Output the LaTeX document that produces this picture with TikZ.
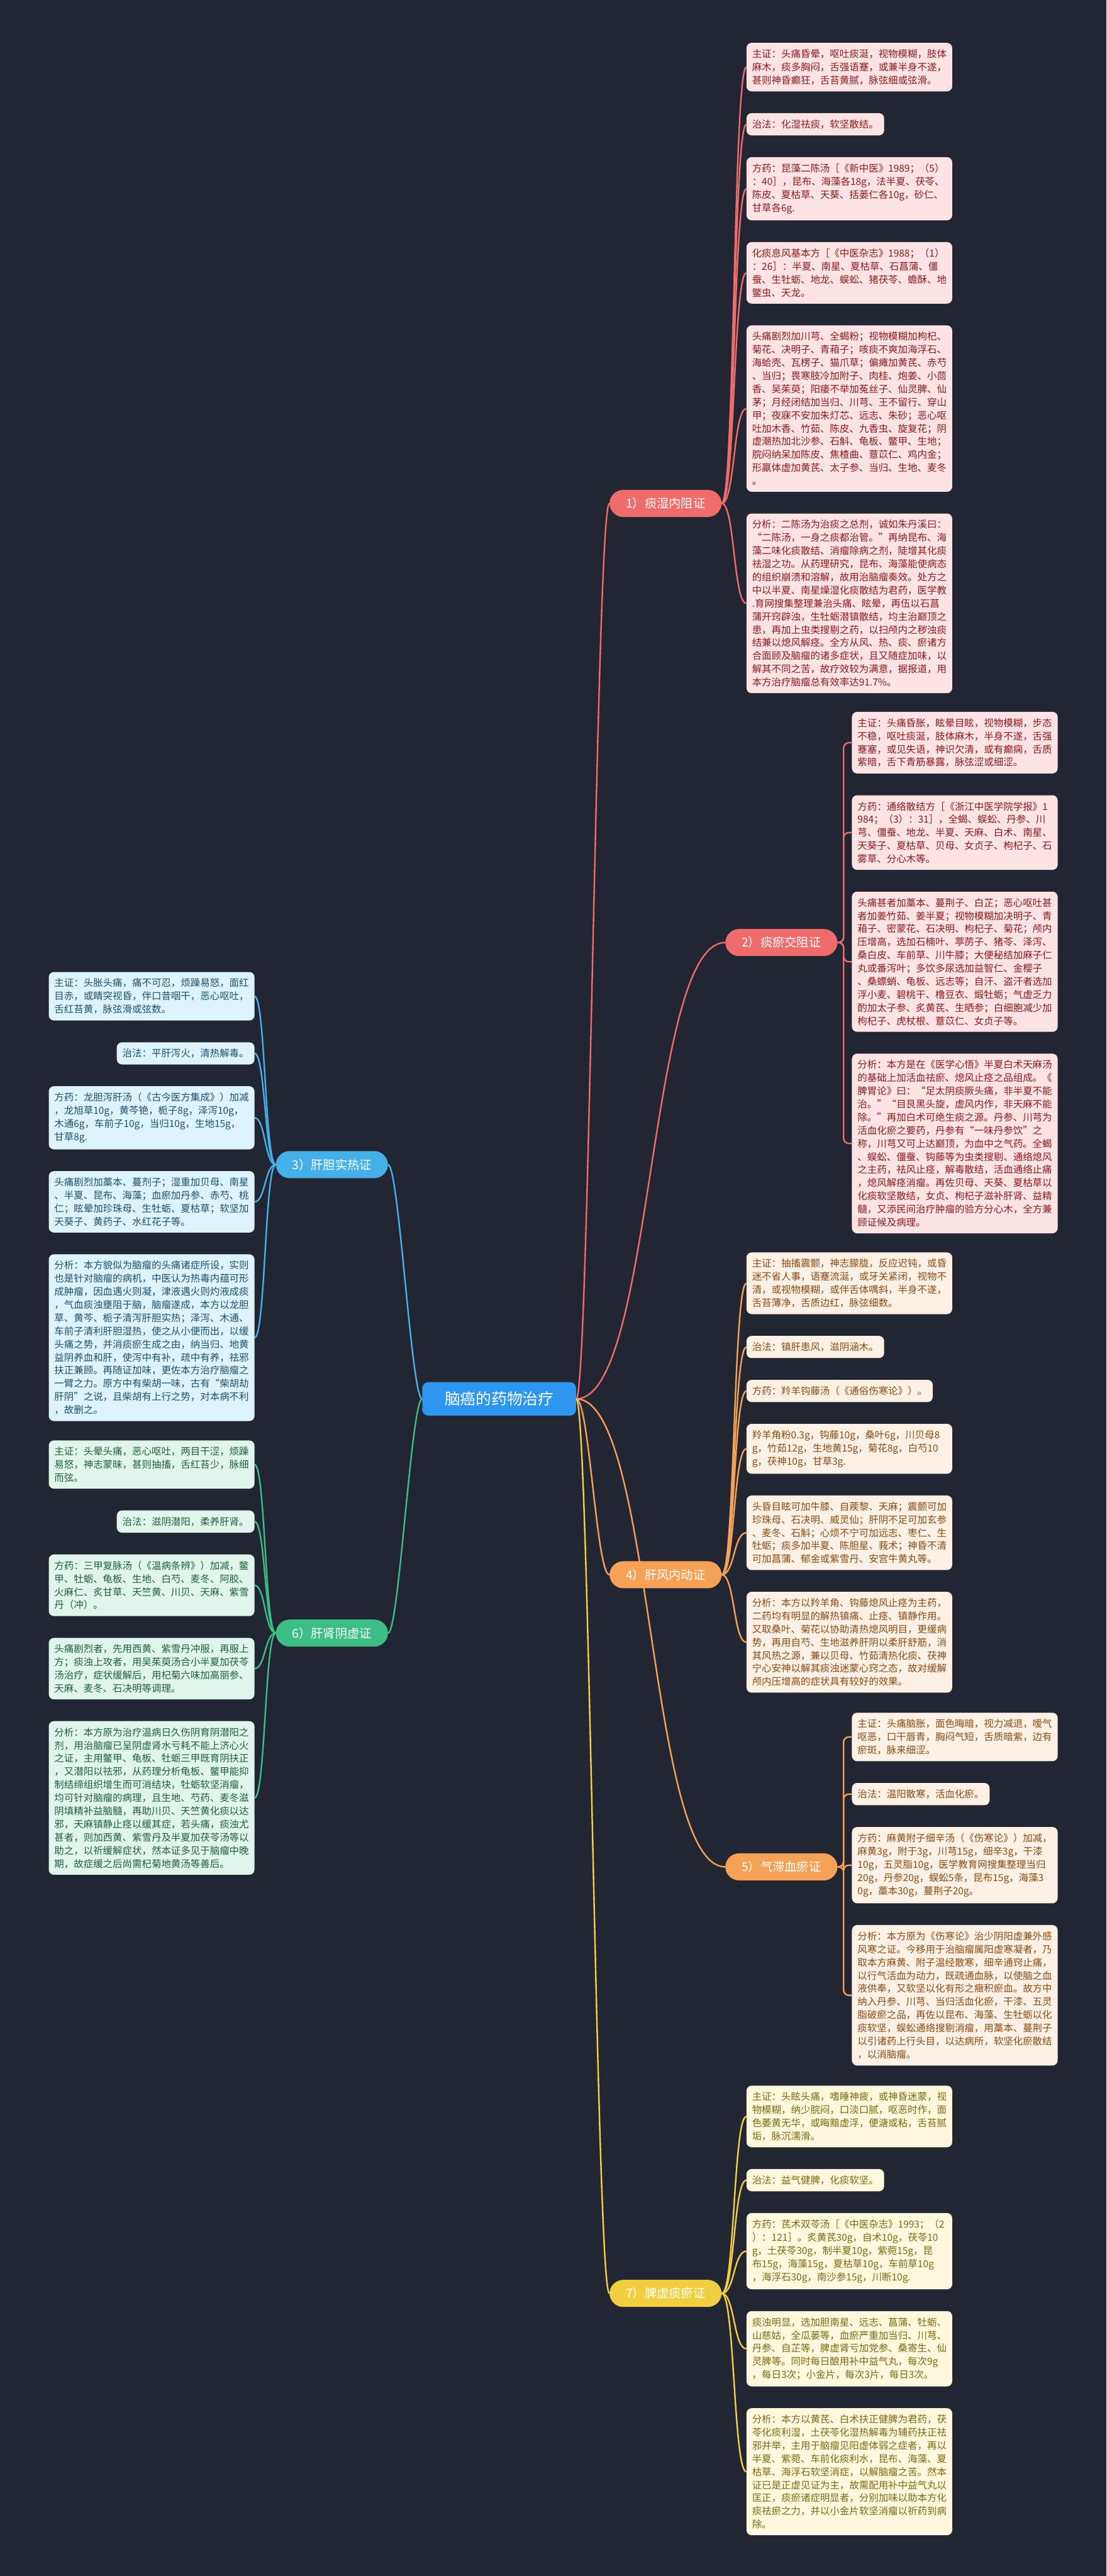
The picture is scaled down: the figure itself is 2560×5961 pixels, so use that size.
\documentclass[tikz,border=0pt]{standalone}
\usepackage{fontspec}
\setmainfont{Noto Sans CJK SC}
\usetikzlibrary{positioning}

\definecolor{bgnavy}{HTML}{222632}
\definecolor{hubblue}{HTML}{2E96EE}
\definecolor{redwire}{HTML}{F06B6B}
\definecolor{redfill}{HTML}{FDE3E3}
\definecolor{redink}{HTML}{8C1C1C}
\definecolor{bluewire}{HTML}{45B1E8}
\definecolor{bluefill}{HTML}{DDF3FD}
\definecolor{blueink}{HTML}{1E4F70}
\definecolor{orangewire}{HTML}{F5A256}
\definecolor{orangefill}{HTML}{FDF0E4}
\definecolor{orangeink}{HTML}{8A4B14}
\definecolor{greenwire}{HTML}{3DBE86}
\definecolor{greenfill}{HTML}{E0F5EB}
\definecolor{greenink}{HTML}{1F5E3F}
\definecolor{yellowwire}{HTML}{F2CF40}
\definecolor{yellowfill}{HTML}{FDF8DE}
\definecolor{yellowink}{HTML}{7E6812}

\tikzset{
  note/.style={rectangle, rounded corners=12pt, inner xsep=13pt, inner ysep=15pt,
    align=left, font=\fontsize{22.5}{30.4}\selectfont},
  card/.style={note, text width=450pt},
  hub/.style={rectangle, rounded corners=14pt, fill=hubblue, text=white,
    inner xsep=52pt, inner ysep=22pt, font=\fontsize{36}{40}\selectfont},
  branch/.style={rectangle, rounded corners=32pt, text=white, inner xsep=38pt,
    inner ysep=18pt, font=\fontsize{28}{32}\selectfont},
  wire/.style={line width=3.5pt},
  rednote/.style={fill=redfill, text=redink},
  bluenote/.style={fill=bluefill, text=blueink},
  orangenote/.style={fill=orangefill, text=orangeink},
  greennote/.style={fill=greenfill, text=greenink},
  yellownote/.style={fill=yellowfill, text=yellowink}
}

\begin{document}
\begin{tikzpicture}[x=1pt, y=-1pt]
    \useasboundingbox (0,0) rectangle (2560,5961);
    \fill[bgnavy] (0,0) rectangle (2560,5961);

    % Root and the seven patterns
    \node[hub] (hub) at (1155,3237) {脑癌的药物治疗};
    \node[branch, fill=redwire] (b1) at (1540,1165) {1）痰湿内阻证};
    \node[branch, fill=redwire] (b2) at (1808,2181) {2）痰瘀交阻证};
    \node[branch, fill=bluewire] (b3) at (768,2695) {3）肝胆实热证};
    \node[branch, fill=orangewire] (b4) at (1540,3644) {4）肝风内动证};
    \node[branch, fill=orangewire] (b5) at (1808,4320) {5）气滞血瘀证};
    \node[branch, fill=greenwire] (b6) at (768,3779) {6）肝肾阴虚证};
    \node[branch, fill=yellowwire] (b7) at (1540,5307) {7）脾虚痰瘀证};

    % 1) 痰湿内阻证
    \node[card, rednote, anchor=north west] (a1) at (1727,99) {主证：头痛昏晕，呕吐痰涎，视物模糊，肢体\\麻木，痰多胸闷，舌强语蹇，或兼半身不遂，\\甚则神昏癫狂，舌苔黄腻，脉弦细或弦滑。};
    \node[note, rednote, below=50pt of a1.south west, anchor=north west] (a2) {治法：化湿祛痰，软坚散结。};
    \node[card, rednote, below=50pt of a2.south west, anchor=north west] (a3) {方药：昆藻二陈汤［《新中医》1989；（5）\\：40］，昆布、海藻各18g，法半夏、茯苓、\\陈皮、夏枯草、天葵、括蒌仁各10g，砂仁、\\甘草各6g.};
    \node[card, rednote, below=50pt of a3.south west, anchor=north west] (a4) {化痰息风基本方［《中医杂志》1988；（1）\\：26］：半夏、南星、夏枯草、石菖蒲、僵\\蚕、生牡蛎、地龙、蜈蚣、猪茯苓、蟾酥、地\\鳖虫、天龙。};
    \node[card, rednote, below=50pt of a4.south west, anchor=north west] (a5) {头痛剧烈加川芎、全蝎粉；视物模糊加枸杞、\\菊花、决明子、青葙子；咳痰不爽加海浮石、\\海蛤壳、瓦楞子、猫爪草；偏瘫加黄芪、赤芍\\、当归；畏寒肢冷加附子、肉桂、炮姜、小茴\\香、吴茱萸；阳痿不举加菟丝子、仙灵脾、仙\\茅；月经闭结加当归、川芎、王不留行、穿山\\甲；夜寐不安加朱灯芯、远志、朱砂；恶心呕\\吐加木香、竹茹、陈皮、九香虫、旋复花；阴\\虚潮热加北沙参、石斛、龟板、鳖甲、生地；\\脘闷纳呆加陈皮、焦楂曲、薏苡仁、鸡内金；\\形羸体虚加黄芪、太子参、当归、生地、麦冬\\。};
    \node[card, rednote, below=50pt of a5.south west, anchor=north west] (a6) {分析：二陈汤为治痰之总剂，诚如朱丹溪曰：\\“二陈汤，一身之痰都治管。”再纳昆布、海\\藻二味化痰散结、消瘤除病之剂，陡增其化痰\\祛湿之功。从药理研究，昆布、海藻能使病态\\的组织崩溃和溶解，故用治脑瘤奏效。处方之\\中以半夏、南星燥湿化痰散结为君药，医学教\\.育网搜集整理兼治头痛、眩晕，再伍以石菖\\蒲开窍辟浊，生牡蛎潜镇散结，均主治巅顶之\\患，再加上虫类搜剔之药，以扫颅内之秽浊痰\\结兼以熄风解痉。全方从风、热、痰、瘀诸方\\合面顾及脑瘤的诸多症状，且又随症加味，以\\解其不同之苦，故疗效较为满意，据报道，用\\本方治疗脑瘤总有效率达91.7\%。};

    % 2) 痰瘀交阻证
    \node[card, rednote, anchor=north west] (p1) at (1971,1647) {主证：头痛昏胀，眩晕目眩，视物模糊，步态\\不稳，呕吐痰涎，肢体麻木，半身不遂，舌强\\蹇塞，或见失语，神识欠清，或有癫痫，舌质\\紫暗，舌下青筋暴露，脉弦涩或细涩。};
    \node[card, rednote, below=50pt of p1.south west, anchor=north west] (p2) {方药：通络散结方［《浙江中医学院学报》1\\984；（3）：31］，全蝎、蜈蚣、丹参、川\\芎、僵蚕、地龙、半夏、天麻、白术、南星、\\天葵子、夏枯草、贝母、女贞子、枸杞子、石\\雾草、分心木等。};
    \node[card, rednote, below=50pt of p2.south west, anchor=north west] (p3) {头痛甚者加藁本、蔓荆子、白芷；恶心呕吐甚\\者加姜竹茹、姜半夏；视物模糊加决明子、青\\葙子、密蒙花、石决明、枸杞子、菊花；颅内\\压增高，选加石楠叶、葶苈子、猪苓、泽泻、\\桑白皮、车前草、川牛膝；大便秘结加麻子仁\\丸或番泻叶；多饮多尿选加益智仁、金樱子\\、桑螵蛸、龟板、远志等；自汗、盗汗者选加\\浮小麦、碧桃干、橹豆衣、煅牡蛎；气虚乏力\\酌加太子参、炙黄芪、生晒参；白细胞减少加\\枸杞子、虎杖根、薏苡仁、女贞子等。};
    \node[card, rednote, below=50pt of p3.south west, anchor=north west] (p4) {分析：本方是在《医学心悟》半夏白术天麻汤\\的基础上加活血祛瘀、熄风止痉之品组成。《\\脾胃论》曰：“足太阴痰厥头痛，非半夏不能\\治。”“目艮黑头旋，虚风内作，非天麻不能\\除。”再加白术可绝生痰之源。丹参、川芎为\\活血化瘀之要药，丹参有“一味丹参饮”之\\称，川芎又可上达巅顶，为血中之气药。全蝎\\、蜈蚣、僵蚕、钩藤等为虫类搜剔、通络熄风\\之主药，祛风止痉，解毒散结，活血通络止痛\\，熄风解痉消瘤。再佐贝母、天葵、夏枯草以\\化痰软坚散结，女贞、枸杞子滋补肝肾、益精\\髓，又添民间治疗肿瘤的验方分心木，全方兼\\顾证候及病理。};

    % 3) 肝胆实热证
    \node[card, bluenote, anchor=north east] (c1) at (589,2249) {主证：头胀头痛，痛不可忍，烦躁易怒，面红\\目赤，或睛突视昏，伴口昔咽干，恶心呕吐，\\舌红苔黄，脉弦滑或弦数。};
    \node[note, bluenote, below=50pt of c1.south east, anchor=north east] (c2) {治法：平肝泻火，清热解毒。};
    \node[card, bluenote, below=50pt of c2.south east, anchor=north east] (c3) {方药：龙胆泻肝汤（《古今医方集成》）加减\\，龙旭草10g，黄芩铯，栀子8g，泽泻10g，\\木通6g，车前子10g，当归10g，生地15g，\\甘草8g.};
    \node[card, bluenote, below=50pt of c3.south east, anchor=north east] (c4) {头痛剧烈加藁本、蔓剂子；湿重加贝母、南星\\、半夏、昆布、海藻；血瘀加丹参、赤芍、桃\\仁；眩晕加珍珠母、生牡蛎、夏枯草；软坚加\\天葵子、黄药子、水红花子等。};
    \node[card, bluenote, below=50pt of c4.south east, anchor=north east] (c5) {分析：本方貌似为脑瘤的头痛诸症所设，实则\\也是针对脑瘤的病机，中医认为热毒内蕴可形\\成肿瘤，因血遇火则凝，津液遇火则灼液成痰\\，气血痰浊壅阻于脑，脑瘤遂成，本方以龙胆\\草、黄芩、栀子清泻肝胆实热；泽泻、木通、\\车前子清利肝胆湿热，使之从小便而出，以缓\\头痛之势，并消痰瘀生成之由，纳当归、地黄\\益阴养血和肝，使泻中有补，疏中有养，祛邪\\扶正兼顾。再随证加味，更佐本方治疗脑瘤之\\一臂之力。原方中有柴胡一味，古有“柴胡劫\\肝阴”之说，且柴胡有上行之势，对本病不利\\，故删之。};

    % 4) 肝风内动证
    \node[card, orangenote, anchor=north west] (d1) at (1727,2898) {主证：抽搐震颤，神志朦胧，反应迟钝，或昏\\迷不省人事，语蹇流涎，或牙关紧闭，视物不\\清，或视物模糊，或伴舌体喁斜，半身不遂，\\舌苔薄净，舌质边红，脉弦细数。};
    \node[note, orangenote, below=50pt of d1.south west, anchor=north west] (d2) {治法：镇肝患风，滋阴涵木。};
    \node[note, orangenote, below=50pt of d2.south west, anchor=north west] (d3) {方药：羚羊钩藤汤（《通俗伤寒论》）。};
    \node[card, orangenote, below=50pt of d3.south west, anchor=north west] (d4) {羚羊角粉0.3g，钩藤10g，桑叶6g，川贝母8\\g，竹茹12g，生地黄15g，菊花8g，白芍10\\g，茯神10g，甘草3g.};
    \node[card, orangenote, below=50pt of d4.south west, anchor=north west] (d5) {头昏目眩可加牛膝、自蒺黎、天麻；震颤可加\\珍珠母、石决明、威灵仙；肝阴不足可加玄参\\、麦冬、石斛；心烦不宁可加远志、枣仁、生\\牡蛎；痰多加半夏、陈胆星、莪术；神昏不清\\可加菖蒲、郁金或紫雪丹、安宫牛黄丸等。};
    \node[card, orangenote, below=50pt of d5.south west, anchor=north west] (d6) {分析：本方以羚羊角、钩藤熄风止痉为主药，\\二药均有明显的解热镇痛、止痉、镇静作用。\\又取桑叶、菊花以协助清热熄风明目，更缓病\\势，再用自芍、生地滋养肝阴以柔肝舒筋，消\\其风热之源，兼以贝母、竹茹清热化痰、茯神\\宁心安神以解其痰浊迷蒙心窍之态，故对缓解\\颅内压增高的症状具有较好的效果。};

    % 5) 气滞血瘀证
    \node[card, orangenote, anchor=north west] (e1) at (1971,3963) {主证：头痛脑胀，面色晦暗，视力减退，嗳气\\呕恶，口干唇青，胸闷气短，舌质暗紫，边有\\瘀斑，脉来细涩。};
    \node[note, orangenote, below=50pt of e1.south west, anchor=north west] (e2) {治法：温阳散寒，活血化瘀。};
    \node[card, orangenote, below=50pt of e2.south west, anchor=north west] (e3) {方药：麻黄附子细辛汤（《伤寒论》）加减，\\麻黄3g，附于3g，川芎15g，细辛3g，干漆\\10g，五灵脂10g，医学教育网搜集整理当归\\20g，丹参20g，蜈蚣5条，昆布15g，海藻3\\0g，藁本30g，蔓荆子20g。};
    \node[card, orangenote, below=50pt of e3.south west, anchor=north west] (e4) {分析：本方原为《伤寒论》治少阴阳虚兼外感\\风寒之证。今移用于治脑瘤属阳虚寒凝者，乃\\取本方麻黄、附子温经散寒，细辛通窍止痛，\\以行气活血为动力，既疏通血脉，以使脑之血\\液供奉，又软坚以化有形之癥积瘀血。故方中\\纳入丹参、川芎、当归活血化瘀，干漆、五灵\\脂破瘀之品，再佐以昆布、海藻、生牡蛎以化\\痰软坚，蜈蚣通络搜剔消瘤，用藁本、蔓荆子\\以引诸药上行头目，以达病所，软坚化瘀散结\\，以消脑瘤。};

    % 6) 肝肾阴虚证
    \node[card, greennote, anchor=north east] (f1) at (589,3333) {主证：头晕头痛，恶心呕吐，两目干涩，烦躁\\易怒，神志蒙昧，甚则抽搐，舌红苔少，脉细\\而弦。};
    \node[note, greennote, below=50pt of f1.south east, anchor=north east] (f2) {治法：滋阴潜阳，柔养肝肾。};
    \node[card, greennote, below=50pt of f2.south east, anchor=north east] (f3) {方药：三甲复脉汤（《温病条辨》）加减，鳖\\甲、牡蛎、龟板、生地、白芍、麦冬、阿胶、\\火麻仁、炙甘草、天竺黄、川贝、天麻、紫雪\\丹（冲）。};
    \node[card, greennote, below=50pt of f3.south east, anchor=north east] (f4) {头痛剧烈者，先用西黄、紫雪丹冲服，再服上\\方；痰浊上攻者，用吴茱萸汤合小半夏加茯苓\\汤治疗，症状缓解后，用杞菊六味加高丽参、\\天麻、麦冬、石决明等调理。};
    \node[card, greennote, below=50pt of f4.south east, anchor=north east] (f5) {分析：本方原为治疗温病日久伤阴育阴潜阳之\\剂，用治脑瘤已呈阴虚肾水亏耗不能上济心火\\之证，主用鳖甲、龟板、牡蛎三甲既育阴扶正\\，又潜阳以祛邪，从药理分析龟板、鳖甲能抑\\制结缔组织增生而可消结块，牡蛎软坚消瘤，\\均可针对脑瘤的病理，且生地、芍药、麦冬滋\\阴填精补益脑髓，再助川贝、天竺黄化痰以达\\邪，天麻镇静止痉以缓其症，若头痛，痰浊尤\\甚者，则加西黄、紫雪丹及半夏加茯苓汤等以\\助之，以祈缓解症状，然本证多见于脑瘤中晚\\期，故症缓之后尚需杞菊地黄汤等善后。};

    % 7) 脾虚痰瘀证
    \node[card, yellownote, anchor=north west] (g1) at (1727,4826) {主证：头眩头痛，嗜睡神疲，或神昏迷蒙，视\\物模糊，纳少脘闷，口淡口腻，呕恶时作，面\\色萎黄无华，或晦黯虚浮，便溏或粘，舌苔腻\\垢，脉沉濡滑。};
    \node[note, yellownote, below=50pt of g1.south west, anchor=north west] (g2) {治法：益气健脾，化痰软坚。};
    \node[card, yellownote, below=50pt of g2.south west, anchor=north west] (g3) {方药：芪术双苓汤［《中医杂志》1993；（2\\）：121］。炙黄芪30g，自术10g，茯苓10\\g，土茯苓30g，制半夏10g，紫菀15g，昆\\布15g，海藻15g，夏枯草10g，车前草10g\\，海浮石30g，南沙参15g，川断10g.};
    \node[card, yellownote, below=50pt of g3.south west, anchor=north west] (g4) {痰浊明显，选加胆南星、远志、菖蒲、牡蛎、\\山慈姑，全瓜蒌等，血瘀严重加当归、川芎、\\丹参、自芷等，脾虚肾亏加党参、桑寄生、仙\\灵脾等。同时每日酿用补中益气丸，每次9g\\，每日3次；小金片，每次3片，每日3次。};
    \node[card, yellownote, below=50pt of g4.south west, anchor=north west] (g5) {分析：本方以黄芪、白术扶正健脾为君药，茯\\苓化痰利湿，土茯苓化湿热解毒为辅药扶正祛\\邪并举，主用于脑瘤见阳虚体弱之症者，再以\\半夏、紫菀、车前化痰利水，昆布、海藻、夏\\枯草、海浮石软坚消症，以解脑瘤之苦。然本\\证已是正虚见证为主，故需配用补中益气丸以\\匡正，痰瘀诸症明显者，分别加味以助本方化\\痰祛瘀之力，并以小金片软坚消瘤以祈药到病\\除。};

    % Root to patterns
    \draw[wire, redwire] (hub.east) .. controls +(30,0) and +(-30,0) .. (b1.west);
    \draw[wire, redwire] (hub.east) .. controls +(180,0) and +(-180,0) .. (b2.west);
    \draw[wire, orangewire] (hub.east) .. controls +(30,0) and +(-30,0) .. (b4.west);
    \draw[wire, orangewire] (hub.east) .. controls +(180,0) and +(-180,0) .. (b5.west);
    \draw[wire, yellowwire] (hub.east) .. controls +(30,0) and +(-30,0) .. (b7.west);
    \draw[wire, bluewire] (hub.west) .. controls +(-25,0) and +(25,0) .. (b3.east);
    \draw[wire, greenwire] (hub.west) .. controls +(-25,0) and +(25,0) .. (b6.east);

    % Patterns to notes
    \foreach \n in {a1,a2,a3,a4,a5,a6}
        \draw[wire, redwire] (b1.east) .. controls +(30,0) and +(-30,0) .. (\n.west);
    \foreach \n in {d1,d2,d3,d4,d5,d6}
        \draw[wire, orangewire] (b4.east) .. controls +(30,0) and +(-30,0) .. (\n.west);
    \foreach \n in {g1,g2,g3,g4,g5}
        \draw[wire, yellowwire] (b7.east) .. controls +(30,0) and +(-30,0) .. (\n.west);
    \foreach \n in {c1,c2,c3,c4,c5}
        \draw[wire, bluewire] (b3.west) .. controls +(-25,0) and +(25,0) .. (\n.east);
    \foreach \n in {f1,f2,f3,f4,f5}
        \draw[wire, greenwire] (b6.west) .. controls +(-25,0) and +(25,0) .. (\n.east);
    \foreach \n in {p1,p2,p3,p4}
        \draw[wire, redwire, rounded corners=12pt] (b2.east) -- ++(14,0) |- (\n.west);
    \foreach \n in {e1,e2,e3,e4}
        \draw[wire, orangewire, rounded corners=12pt] (b5.east) -- ++(14,0) |- (\n.west);
\end{tikzpicture}
\end{document}
